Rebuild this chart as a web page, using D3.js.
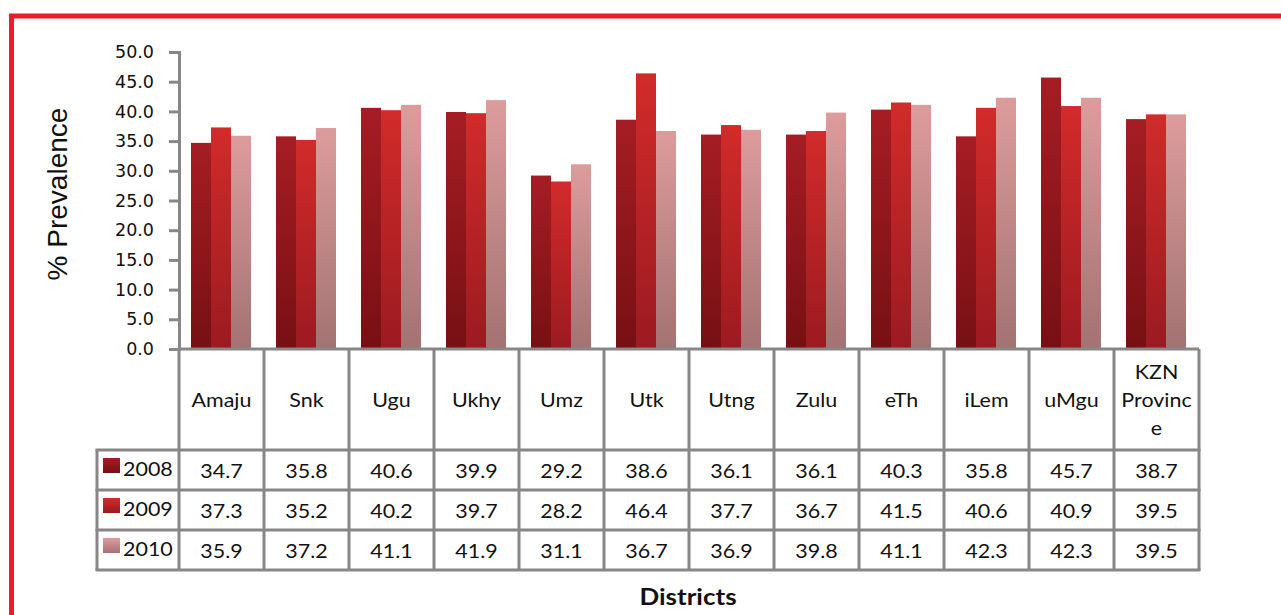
<!DOCTYPE html>
<html>
<head>
<meta charset="utf-8">
<script src="https://cdn.jsdelivr.net/npm/d3@7"></script>
<style>
    body { margin: 0; background: #fff; }
    svg { display: block; }
</style>
</head>
<body>
<svg id="chart" width="1281" height="615"></svg>
<script>
const districts = ["Amaju", "Snk", "Ugu", "Ukhy", "Umz", "Utk", "Utng", "Zulu", "eTh", "iLem", "uMgu", "KZN Province"]
const years = ["2008", "2009", "2010"]
const values2008 = [34.7, 35.8, 40.6, 39.9, 29.2, 38.6, 36.1, 36.1, 40.3, 35.8, 45.7, 38.7]
const values2009 = [37.3, 35.2, 40.2, 39.7, 28.2, 46.4, 37.7, 36.7, 41.5, 40.6, 40.9, 39.5]
const values2010 = [35.9, 37.2, 41.1, 41.9, 31.1, 36.7, 36.9, 39.8, 41.1, 42.3, 42.3, 39.5]
const yTicks = [0, 5, 10, 15, 20, 25, 30, 35, 40, 45, 50]

const series = [values2008, values2009, values2010]
const colors = [
    { top: "#a51d24", bottom: "#771013" },
    { top: "#d22b2a", bottom: "#9b1a20" },
    { top: "#dd9c9c", bottom: "#a37272" }
]

const svg = d3.select("#chart")
const gridColor = "#878787"
const tableFont = "Lato, 'Open Sans', sans-serif"

// gradients
const defs = svg.append("defs")
colors.forEach((c, i) => {
    const g = defs.append("linearGradient")
        .attr("id", "grad" + i)
        .attr("x1", 0).attr("y1", 0).attr("x2", 0).attr("y2", 1)
    g.append("stop").attr("offset", "0%").attr("stop-color", c.top)
    g.append("stop").attr("offset", "100%").attr("stop-color", c.bottom)
})

// red frame
svg.append("rect")
    .attr("x", 11.5).attr("y", 16)
    .attr("width", 1300).attr("height", 700)
    .attr("fill", "none")
    .attr("stroke", "#ed1c24")
    .attr("stroke-width", 5)

const x0 = d3.scaleBand().domain(districts).range([179, 1199])
const x1 = d3.scaleBand().domain(years).range([12, 72])
const y = d3.scaleLinear().domain([0, 50]).range([349, 52])

// bars
series.forEach((vals, si) => {
    svg.append("g")
        .selectAll("rect")
        .data(vals)
        .enter()
        .append("rect")
        .attr("x", (d, i) => x0(districts[i]) + x1(years[si]))
        .attr("y", d => y(d))
        .attr("width", x1.bandwidth())
        .attr("height", d => y(0) - y(d))
        .attr("fill", "url(#grad" + si + ")")
})

// y axis
const yAxis = svg.append("g")
    .attr("transform", "translate(179,0)")
    .call(d3.axisLeft(y).tickValues(yTicks).tickSize(10).tickPadding(15).tickFormat(d3.format(".1f")))
yAxis.select(".domain").attr("stroke", gridColor).attr("stroke-width", 3)
yAxis.selectAll(".tick line").attr("stroke", gridColor).attr("stroke-width", 3)
yAxis.selectAll(".tick text")
    .attr("fill", "#111")
    .style("font-family", "'DejaVu Sans', sans-serif")
    .style("font-size", "17.5px")

svg.append("text")
    .attr("transform", "translate(67,194) rotate(-90)")
    .attr("text-anchor", "middle")
    .style("font-family", "'Liberation Sans', Arial, sans-serif")
    .style("font-size", "28px")
    .attr("fill", "#111")
    .text("% Prevalence")

// table
const headTop = 349, headBottom = 450, rowH = 40
const tableLeft = 97, tableRight = 1199
const grid = svg.append("g").attr("stroke", gridColor).attr("stroke-width", 3)

grid.append("line")
    .attr("x1", 179).attr("x2", tableRight)
    .attr("y1", headTop).attr("y2", headTop)

d3.range(districts.length + 1).forEach(i => {
    const xx = 179 + i * x0.bandwidth()
    grid.append("line")
        .attr("x1", xx).attr("x2", xx)
        .attr("y1", headTop).attr("y2", headBottom + rowH * 3)
})
d3.range(4).forEach(r => {
    const yy = headBottom + r * rowH
    grid.append("line")
        .attr("x1", tableLeft - 1.5).attr("x2", tableRight + 1.5)
        .attr("y1", yy).attr("y2", yy)
})
grid.append("line")
    .attr("x1", tableLeft).attr("x2", tableLeft)
    .attr("y1", headBottom).attr("y2", headBottom + rowH * 3)

const stretchText = (g, tx, ty, txt, size, anchor, weight) => {
    g.append("text")
        .attr("transform", `translate(${tx},${ty}) scale(1.13,1)`)
        .attr("text-anchor", anchor)
        .style("font-family", tableFont)
        .style("font-size", size + "px")
        .style("font-weight", weight || "normal")
        .attr("fill", "#111")
        .text(txt)
}

const labels = svg.append("g")
districts.forEach(name => {
    const cx = x0(name) + x0.bandwidth() / 2
    if (name === "KZN Province") {
        ["KZN", "Provinc", "e"].forEach((part, k) => {
            stretchText(labels, cx, 379 + k * 28, part, 19, "middle")
        })
    } else {
        stretchText(labels, cx, 407, name, 19, "middle")
    }
})

series.forEach((vals, si) => {
    const rowTop = headBottom + si * rowH
    labels.append("rect")
        .attr("x", 103).attr("y", rowTop + 8)
        .attr("width", 17).attr("height", 15)
        .attr("fill", "url(#grad" + si + ")")
    stretchText(labels, 123, rowTop + 26, years[si], 19, "start")
    vals.forEach((v, i) => {
        const cx = x0(districts[i]) + x0.bandwidth() / 2
        stretchText(labels, cx, rowTop + 28, v.toFixed(1), 19, "middle")
    })
})

stretchText(svg, 688, 605, "Districts", 23, "middle", "bold")
</script>
</body>
</html>
